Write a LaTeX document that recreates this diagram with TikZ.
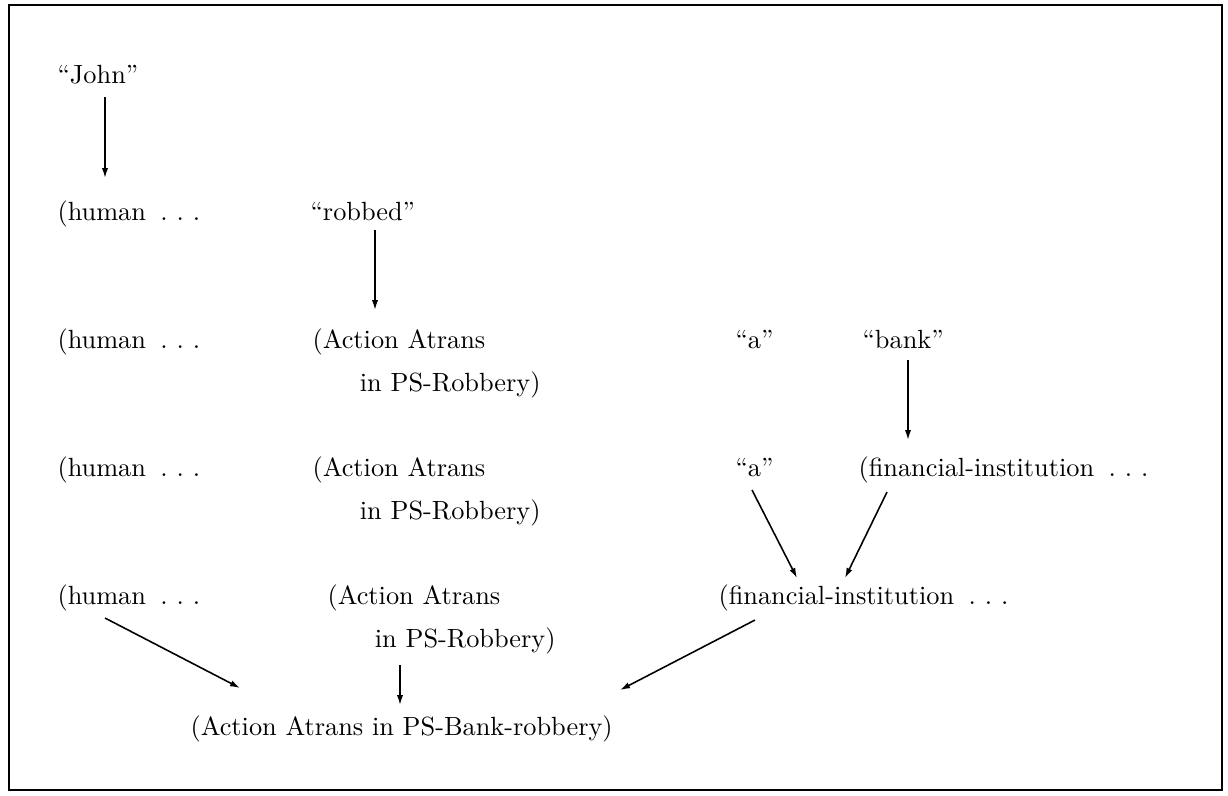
\documentclass[tikz,border=0pt]{standalone}
\usetikzlibrary{arrows.meta,calc}
\newcommand{\spdots}{\hspace{5.5pt}.\hspace{3.4pt}.\hspace{3.4pt}.}
\begin{document}
\begin{tikzpicture}[x=0.38pt,y=-0.38pt,
  lbl/.style={inner sep=0pt,anchor=base west,font=\fontsize{10}{16.3}\selectfont},
  two/.style={lbl,align=left},
  arr/.style={line width=0.6pt,-{Latex[length=3.8pt,width=2.4pt]}}]
\useasboundingbox (0,0) rectangle (1228,795);
\draw[line width=0.8pt] (9,5) rectangle (1222,790);
% nodes (two-line nodes are anchored at the baseline of their last line)
\node[lbl] (john) at (57,83) {``John''};
\node[lbl] (hum1) at (57,220) {(human\spdots};
\node[lbl] (rob) at (310,220) {``robbed''};
\node[lbl] (hum2) at (57,348) {(human\spdots};
\node[two] (act2) at (312,391) {(Action Atrans\\\hspace*{18pt}in PS-Robbery)};
\node[lbl] (a2) at (735,348) {``a''};
\node[lbl] (bank) at (862,348) {``bank''};
\node[lbl] (hum3) at (57,476) {(human\spdots};
\node[two] (act3) at (312,519) {(Action Atrans\\\hspace*{18pt}in PS-Robbery)};
\node[lbl] (a3) at (735,476) {``a''};
\node[lbl] (fin3) at (858,476) {(financial-institution\spdots};
\node[lbl] (hum4) at (57,604) {(human\spdots};
\node[two] (act4) at (327,647) {(Action Atrans\\\hspace*{18pt}in PS-Robbery)};
\node[lbl] (fin4) at (718,604) {(financial-institution\spdots};
\node[lbl] (final) at (190,735) {(Action Atrans in PS-Bank-robbery)};
% connectors
\draw[arr] ($(john.base west)+(48,14)$) -- ($(hum1.base west)+(48,-42)$);
\draw[arr] ($(rob.base west)+(65,10)$) -- ($(act2.base west)+(63,-81)$);
\draw[arr] ($(bank.base west)+(46,12)$) -- ($(fin3.base west)+(50,-36)$);
\draw[arr] ($(a3.base west)+(17,14)$) -- ($(fin4.base west)+(79,-26)$);
\draw[arr] ($(fin3.base west)+(29,16)$) -- ($(fin4.base west)+(127,-26)$);
\draw[arr] ($(hum4.base west)+(48,14)$) -- ($(final.base west)+(50,-47)$);
\draw[arr] ($(act4.base west)+(73,18)$) -- ($(final.base west)+(210,-30)$);
\draw[arr] ($(fin4.base west)+(37,16)$) -- ($(final.base west)+(430,-45)$);
\end{tikzpicture}
\end{document}
